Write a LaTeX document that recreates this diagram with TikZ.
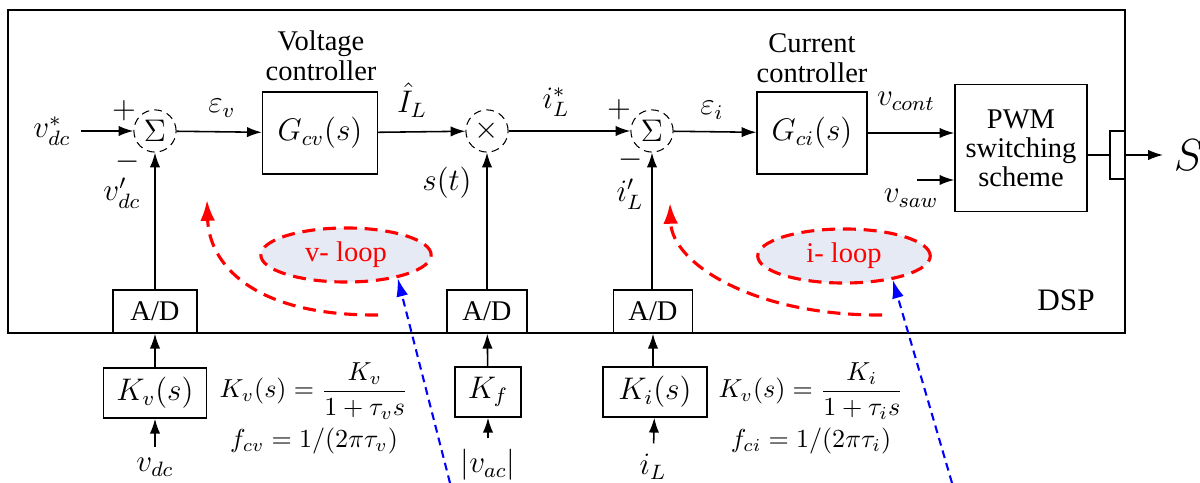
\documentclass[tikz,border=0pt,12pt]{standalone}
\usepackage{amsmath}
\usepackage{fontspec}
\setmainfont{Liberation Serif}
\usepackage{xcolor}
\usetikzlibrary{arrows.meta,shapes.geometric}
\definecolor{loopfill}{RGB}{230,234,244}

\begin{document}
\begin{tikzpicture}[x=0.0135cm,y=-0.0135cm,
  blk/.style={draw,semithick,inner sep=0pt},
  txt/.style={font=\small,align=center},
  sumc/.style={draw,circle,thin,densely dashed,minimum size=0.57cm,inner sep=0pt},
  arr/.style={semithick,-{Latex[length=2mm,width=1.4mm]}},
  loopell/.style={ellipse,draw=red,very thick,dash pattern=on 5pt off 3pt,fill=loopfill,text=red,
    font=\small,minimum width=2.3cm,minimum height=0.73cm,inner sep=0pt},
  redarr/.style={red,very thick,dash pattern=on 5pt off 3pt,-{Latex[length=2.8mm,width=2mm]}},
  bluearr/.style={blue,thick,dash pattern=on 3pt off 2pt,-{Latex[length=2.5mm,width=1.6mm]}}]
  \useasboundingbox (0,0) rectangle (1200,483);
  % DSP frame
  \draw[semithick] (8,10) rectangle (1125,333);
  \node (dsp) at (1066,300) {DSP};

  % forward path
  \node (vref) at (52,131) {$v^{*}_{dc}$};
  \node[sumc] (sumv) at (155,131) {$\Sigma$};
  \node[blk,minimum width=1.55cm,minimum height=1.11cm] (gcv) at (320,133) {$G_{cv}(s)$};
  \node[sumc] (mult) at (487,131) {$\times$};
  \node[sumc] (sumi) at (652,131) {$\Sigma$};
  \node[blk,minimum width=1.48cm,minimum height=1.11cm] (gci) at (812,133) {$G_{ci}(s)$};
  \node[blk,txt,minimum width=1.78cm,minimum height=1.71cm] (pwm) at (1021,148)
    {PWM\\[-2.5pt]switching\\[-2.5pt]scheme};
  \node[blk,minimum width=0.2cm,minimum height=0.65cm] (port) at (1117.5,155) {};
  \node[anchor=west,font=\Large] (sig) at (1163,155) {$S$};

  \node[txt] at (321,56) {Voltage\\[-2pt]controller};
  \node[txt] at (812,58) {Current\\[-2pt]controller};

  \draw[arr] (vref) -- (sumv);
  \draw[arr] (sumv) -- (gcv);
  \draw[arr] (gcv) -- (mult);
  \draw[arr] (mult) -- (sumi);
  \draw[arr] (sumi) -- (gci);
  \draw[arr] (gci.east) -- (pwm.west |- gci.east);
  \draw[semithick] (pwm.east |- port) -- (port.west);
  \draw[arr] (port.east) -- (sig.west);
  \coordinate (sawin) at (917,180);
  \draw[arr] (sawin) -- (pwm.west |- sawin);

  % signal labels
  \node at (124,111) {$+$};
  \node at (128,162) {$-$};
  \node at (619,110) {$+$};
  \node at (631,160) {$-$};
  \node at (222,108) {$\varepsilon_v$};
  \node at (412,100) {$\hat{I}_L$};
  \node at (556,102) {$i^{*}_{L}$};
  \node at (712,110) {$\varepsilon_i$};
  \node at (906,101) {$v_{cont}$};
  \node at (911,198) {$v_{saw}$};
  \node at (122,193) {$v'_{dc}$};
  \node at (447,183) {$s(t)$};
  \node at (630,194) {$i'_{L}$};

  % feedback paths
  \node[blk,txt,minimum width=1.13cm,minimum height=0.58cm] (adv) at (155,311.5) {A/D};
  \node[blk,txt,minimum width=1.08cm,minimum height=0.58cm] (adf) at (487,311.5) {A/D};
  \node[blk,txt,minimum width=1.07cm,minimum height=0.58cm] (adi) at (653,311.5) {A/D};
  \node[blk,minimum width=1.39cm,minimum height=0.675cm] (kv) at (155,393) {$K_v(s)$};
  \node[blk,minimum width=0.89cm,minimum height=0.675cm] (kf) at (488,392) {$K_f$};
  \node[blk,minimum width=1.40cm,minimum height=0.675cm] (ki) at (655,392) {$K_i(s)$};
  \node (vdc) at (155,467) {$v_{dc}$};
  \node (vac) at (488,465) {$|v_{ac}|$};
  \node (il) at (653,467) {$i_L$};
  \draw[arr] (vdc) -- (kv);
  \draw[arr] (vac) -- (kf);
  \draw[arr] (il) -- (ki);
  \draw[arr] (kv) -- (adv);
  \draw[arr] (kf) -- (adf);
  \draw[arr] (ki.north -| adi) -- (adi);
  \draw[arr] (adv) -- (sumv);
  \draw[arr] (adf) -- (mult);
  \draw[arr] (adi.north -| sumi) -- (sumi);

  \node[font=\footnotesize] at (314,391) {$K_v(s)=\dfrac{K_v}{1+\tau_v s}$};
  \node[font=\footnotesize] at (314,441) {$f_{cv}=1/(2\pi\tau_v)$};
  \node[font=\footnotesize] at (811,391) {$K_v(s)=\dfrac{K_i}{1+\tau_i s}$};
  \node[font=\footnotesize] at (811,441) {$f_{ci}=1/(2\pi\tau_i)$};

  % loops
  \node[loopell] (vloop) at (346,255) {v- loop};
  \node[loopell,minimum width=2.33cm] (iloop) at (844,256) {i- loop};
  \coordinate (vls) at (378,315);
  \coordinate (vle) at (207,200);
  \coordinate (ils) at (882,315);
  \coordinate (ile) at (670,203);
  \draw[redarr] (vls) .. controls (250,316) and (209,262) .. (vle);
  \draw[redarr] (ils) .. controls (755,316) and (672,264) .. (ile);
  \coordinate (vbs) at (450,483);
  \coordinate (ibs) at (952,483);
  \draw[bluearr] (vbs) -- (vloop.-24);
  \draw[bluearr] (ibs) -- (iloop.-26);
\end{tikzpicture}
\end{document}
